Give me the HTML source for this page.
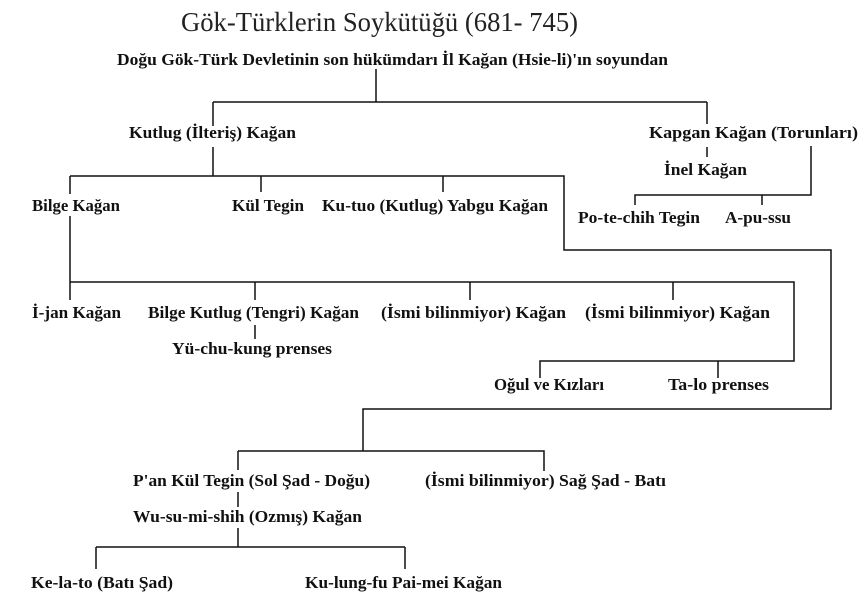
<!DOCTYPE html>
<html><head><meta charset="utf-8"><style>
html,body{margin:0;padding:0;background:#fff;}
svg{display:block;}
text{font-family:"Liberation Serif",serif;font-weight:bold;font-size:17px;fill:#111;}
.t{font-weight:normal;font-size:27px;fill:#222;}
</style></head><body>
<svg width="862" height="612" viewBox="0 0 862 612" xmlns="http://www.w3.org/2000/svg">
<g stroke="#111" stroke-width="1.5" fill="none">
<path d="M376 69V102M213 102H707M213 102V126M707 102V124"/>
<path d="M707 147V157M811 146V195H635V205M762 195V205"/>
<path d="M213 147V176M70 176H564V250H831V409H363V451M70 176V194M70 216V282M261 176V192M443 176V192"/>
<path d="M70 282H794V361H540V378M718 361V378M255 282V300M470 282V300M673 282V300M70 282V300"/>
<path d="M255 325V339"/>
<path d="M238 451H544V471M238 451V470M238 492V507M238 528V547M96 547H405M96 547V569M405 547V569"/>
</g>
<text class="t" x="181" y="31" textLength="397" lengthAdjust="spacingAndGlyphs">Gök-Türklerin Soykütüğü (681- 745)</text>
<text x="117" y="65" textLength="551" lengthAdjust="spacingAndGlyphs">Doğu Gök-Türk Devletinin son hükümdarı İl Kağan (Hsie-li)'ın soyundan</text>
<text x="129" y="138" textLength="167" lengthAdjust="spacingAndGlyphs">Kutlug (İlteriş) Kağan</text>
<text x="649" y="138" textLength="209" lengthAdjust="spacingAndGlyphs">Kapgan Kağan  (Torunları)</text>
<text x="664" y="175" textLength="83" lengthAdjust="spacingAndGlyphs">İnel Kağan</text>
<text x="32" y="211" textLength="88" lengthAdjust="spacingAndGlyphs">Bilge Kağan</text>
<text x="232" y="211" textLength="72" lengthAdjust="spacingAndGlyphs">Kül Tegin</text>
<text x="322" y="211" textLength="226" lengthAdjust="spacingAndGlyphs">Ku-tuo (Kutlug) Yabgu Kağan</text>
<text x="578" y="223" textLength="122" lengthAdjust="spacingAndGlyphs">Po-te-chih Tegin</text>
<text x="725" y="223" textLength="66" lengthAdjust="spacingAndGlyphs">A-pu-ssu</text>
<text x="32" y="318" textLength="89" lengthAdjust="spacingAndGlyphs">İ-jan Kağan</text>
<text x="148" y="318" textLength="211" lengthAdjust="spacingAndGlyphs">Bilge Kutlug (Tengri) Kağan</text>
<text x="381" y="318" textLength="185" lengthAdjust="spacingAndGlyphs">(İsmi bilinmiyor) Kağan</text>
<text x="585" y="318" textLength="185" lengthAdjust="spacingAndGlyphs">(İsmi bilinmiyor) Kağan</text>
<text x="172" y="354" textLength="160" lengthAdjust="spacingAndGlyphs">Yü-chu-kung prenses</text>
<text x="494" y="390" textLength="110" lengthAdjust="spacingAndGlyphs">Oğul ve Kızları</text>
<text x="668" y="390" textLength="101" lengthAdjust="spacingAndGlyphs">Ta-lo prenses</text>
<text x="133" y="486" textLength="237" lengthAdjust="spacingAndGlyphs">P'an Kül Tegin (Sol Şad - Doğu)</text>
<text x="425" y="486" textLength="241" lengthAdjust="spacingAndGlyphs">(İsmi bilinmiyor) Sağ Şad - Batı</text>
<text x="133" y="522" textLength="229" lengthAdjust="spacingAndGlyphs">Wu-su-mi-shih (Ozmış) Kağan</text>
<text x="31" y="588" textLength="142" lengthAdjust="spacingAndGlyphs">Ke-la-to (Batı Şad)</text>
<text x="305" y="588" textLength="197" lengthAdjust="spacingAndGlyphs">Ku-lung-fu Pai-mei Kağan</text>
</svg>
</body></html>
